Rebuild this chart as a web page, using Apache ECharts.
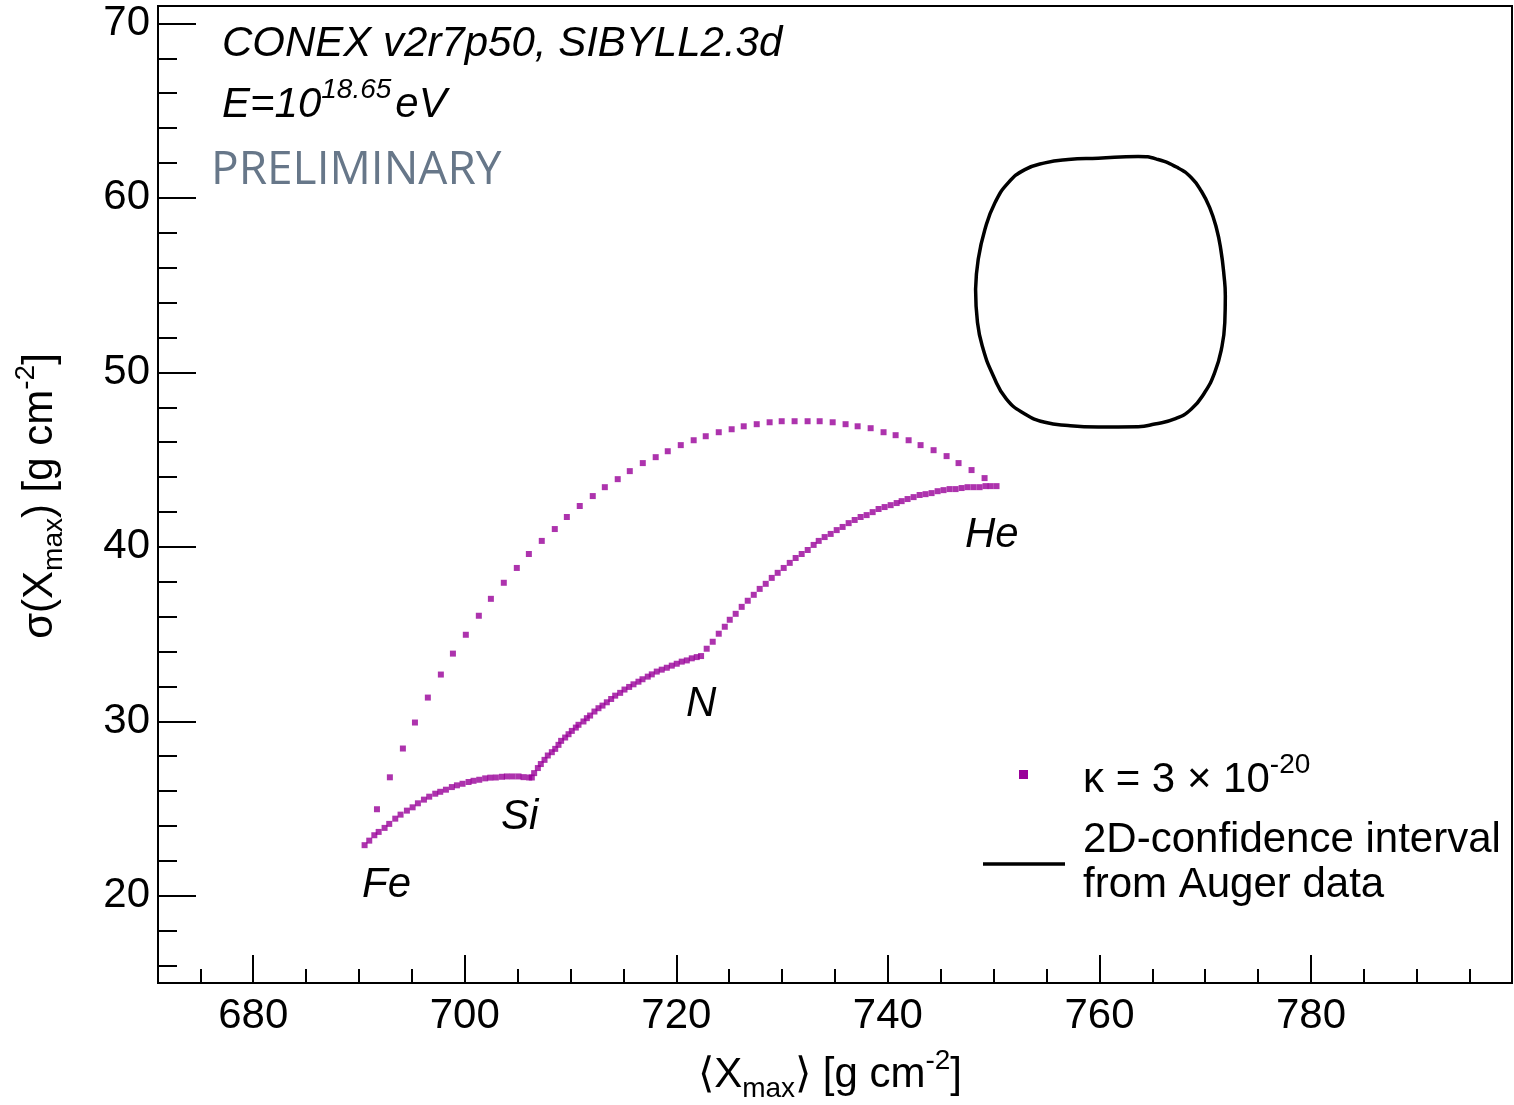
<!DOCTYPE html>
<html>
<head>
<meta charset="utf-8">
<script src="https://cdn.jsdelivr.net/npm/echarts@6/dist/echarts.min.js"></script>
<style>
  html, body { margin: 0; padding: 0; background: #ffffff; }
  #chart { width: 1514px; height: 1105px; }
</style>
</head>
<body>
<div id="chart"></div>
<script>
// <Xmax>, sigma(Xmax) of two-component mixtures (kappa = 3e-20)
// Adjacent-element mixtures: Fe-Si, Si-N, N-He
const mixFeSi = [
  [690.53,22.90],[690.97,23.16],[691.45,23.47],[691.86,23.66],[692.42,23.89],[692.86,24.12],
  [693.43,24.42],[693.93,24.65],[694.53,24.88],[695.07,25.07],[695.57,25.30],[696.14,25.51],
  [696.64,25.68],[697.21,25.85],[697.68,25.96],[698.22,26.08],[698.78,26.23],[699.26,26.33],
  [699.79,26.42],[700.36,26.52],[700.83,26.59],[701.37,26.65],[701.93,26.73],[702.41,26.77],
  [702.94,26.78],[703.51,26.82],[703.98,26.84],[704.52,26.84],[705.08,26.84],[705.56,26.80],
  [706.09,26.78],[706.34,26.78]
];
const mixSiN = [
  [706.56,27.03],[706.91,27.32],[707.19,27.55],[707.54,27.79],[707.85,28.04],[708.23,28.23],
  [708.55,28.42],[708.86,28.65],[709.11,28.88],[709.49,29.07],[709.81,29.26],[710.12,29.45],
  [710.50,29.64],[710.75,29.80],[711.22,29.99],[711.54,30.18],[711.85,30.33],[712.26,30.56],
  [712.64,30.75],[713.02,30.90],[713.43,31.09],[713.84,31.28],[714.22,31.47],[714.69,31.63],
  [715.10,31.82],[715.54,31.97],[715.95,32.12],[716.42,32.27],[716.80,32.41],[717.30,32.56],
  [717.68,32.69],[718.15,32.85],[718.62,32.96],[719.10,33.07],[719.57,33.19],[720.04,33.30],
  [720.51,33.42],[720.99,33.49],[721.46,33.61],[721.93,33.68],[722.34,33.74]
];
const mixNHe = [
  [722.87,34.16],[723.44,34.56],[724.01,35.02],[724.58,35.42],[725.05,35.82],[725.61,36.16],
  [726.18,36.56],[726.75,36.91],[727.32,37.25],[727.88,37.59],[728.45,37.88],[729.02,38.22],
  [729.58,38.51],[730.15,38.79],[730.72,39.08],[731.28,39.36],[731.85,39.59],[732.42,39.82],
  [732.98,40.11],[733.46,40.34],[734.02,40.56],[734.59,40.74],[735.16,40.96],[735.72,41.14],
  [736.29,41.36],[736.86,41.54],[737.42,41.71],[737.99,41.82],[738.56,41.99],[739.12,42.17],
  [739.69,42.28],[740.26,42.39],[740.83,42.51],[741.30,42.62],[741.86,42.74],[742.43,42.85],
  [743.00,42.97],[743.56,43.02],[744.13,43.08],[744.70,43.19],[745.26,43.25],[745.83,43.31],
  [746.40,43.31],[746.97,43.37],[747.53,43.42],[748.10,43.42],[748.67,43.42],[749.23,43.48],
  [749.71,43.48],[750.27,43.48]
];
// Direct Fe-He mixtures
const mixFeHe = [
  [691.70,24.96],[692.92,26.79],[694.15,28.44],[695.29,29.93],[696.51,31.36],[697.74,32.68],
  [698.88,33.88],[700.10,34.96],[701.33,36.05],[702.47,37.02],[703.69,37.94],[704.92,38.79],
  [706.06,39.59],[707.28,40.34],[708.51,41.02],[709.65,41.71],[710.87,42.34],[712.10,42.91],
  [713.24,43.42],[714.46,43.88],[715.60,44.34],[716.83,44.80],[718.05,45.14],[719.19,45.48],
  [720.42,45.83],[721.64,46.11],[722.78,46.34],[724.01,46.57],[725.23,46.74],[726.37,46.91],
  [727.60,47.03],[728.82,47.14],[729.96,47.20],[731.18,47.20],[732.41,47.20],[733.55,47.20],
  [734.78,47.14],[736.00,47.03],[737.14,46.91],[738.37,46.80],[739.59,46.57],[740.73,46.40],
  [741.96,46.11],[743.09,45.83],[744.32,45.54],[745.55,45.20],[746.68,44.80],[747.91,44.40],
  [749.14,43.94]
];
// 2D confidence contour from Auger data (closed loop)
const augerContour = [
  [748.29,54.76],[748.54,56.48],[749.17,58.19],[750.12,59.72],[751.37,60.86],[752.95,61.62],
  [754.84,62.01],[757.04,62.20],[759.88,62.28],[763.66,62.38],[765.55,62.20],[767.43,61.72],
  [768.69,61.15],[769.64,60.38],[770.43,59.43],[771.05,58.29],[771.47,57.05],[771.78,55.52],
  [771.90,54.38],[771.85,52.86],[771.53,51.33],[770.90,50.00],[769.96,48.86],[768.69,47.90],
  [767.12,47.33],[765.23,47.04],[763.66,46.89],[759.88,46.87],[757.04,46.95],[754.84,47.14],
  [752.95,47.62],[751.21,48.47],[749.96,49.81],[749.01,51.33],[748.47,52.86],[748.29,54.76]
];

// Axis ticks
const xMajorTicks = [680, 700, 720, 740, 760, 780];
const xMinorTicks = [675, 685, 690, 695, 705, 710, 715, 725, 730, 735, 745, 750, 755, 765, 770, 775, 785, 790, 795];
const yMajorTicks = [20, 30, 40, 50, 60, 70];
const yMinorTicks = [16, 18, 22, 24, 26, 28, 32, 34, 36, 38, 42, 44, 46, 48, 52, 54, 56, 58, 62, 64, 66, 68];

const X_MIN = 671, X_MAX = 799, Y_MIN = 15, Y_MAX = 71;

const FONT = "'Liberation Sans', Arial, Helvetica, sans-serif";
const PURPLE = '#990099';

const chart = echarts.init(document.getElementById('chart'), null, { renderer: 'canvas' });

function scatterSeries(name, data) {
  return {
    name: name,
    type: 'scatter',
    xAxisIndex: 0,
    yAxisIndex: 0,
    symbol: 'rect',
    symbolSize: 6,
    itemStyle: { color: PURPLE },
    data: data,
    silent: true
  };
}

const baseText = { fontFamily: FONT, fontSize: 42, fill: '#000' };

chart.setOption({
  animation: false,
  backgroundColor: '#ffffff',
  grid: {
    left: 158, right: 2, top: 6, bottom: 122,
    show: true, borderColor: '#000', borderWidth: 2, backgroundColor: 'transparent'
  },
  xAxis: [
    {
      type: 'value', min: X_MIN, max: X_MAX, position: 'bottom',
      axisLine: { show: true, onZero: false, lineStyle: { color: '#000', width: 2 } },
      axisTick: { show: true, inside: true, length: 28, customValues: xMajorTicks, lineStyle: { color: '#000', width: 2 } },
      axisLabel: { show: true, customValues: xMajorTicks, margin: 12, fontFamily: FONT, fontSize: 42, color: '#000' },
      splitLine: { show: false }
    },
    {
      type: 'value', min: X_MIN, max: X_MAX, position: 'bottom',
      axisLine: { show: false },
      axisTick: { show: true, inside: true, length: 14, customValues: xMinorTicks, lineStyle: { color: '#000', width: 2 } },
      axisLabel: { show: false },
      splitLine: { show: false }
    }
  ],
  yAxis: [
    {
      type: 'value', min: Y_MIN, max: Y_MAX, position: 'left',
      axisLine: { show: true, onZero: false, lineStyle: { color: '#000', width: 2 } },
      axisTick: { show: true, inside: true, length: 38, customValues: yMajorTicks, lineStyle: { color: '#000', width: 2 } },
      axisLabel: { show: true, customValues: yMajorTicks, margin: 8, fontFamily: FONT, fontSize: 42, color: '#000' },
      splitLine: { show: false }
    },
    {
      type: 'value', min: Y_MIN, max: Y_MAX, position: 'left',
      axisLine: { show: false },
      axisTick: { show: true, inside: true, length: 19, customValues: yMinorTicks, lineStyle: { color: '#000', width: 2 } },
      axisLabel: { show: false },
      splitLine: { show: false }
    }
  ],
  series: [
    {
      name: '2D-confidence interval from Auger data',
      type: 'line',
      xAxisIndex: 0, yAxisIndex: 0,
      data: augerContour,
      smooth: 0.5,
      showSymbol: false,
      lineStyle: { color: '#000', width: 3.5 },
      silent: true
    },
    scatterSeries('Fe-Si', mixFeSi),
    scatterSeries('Si-N', mixSiN),
    scatterSeries('N-He', mixNHe),
    scatterSeries('Fe-He', mixFeHe)
  ],
  graphic: [
    // header text
    { type: 'text', x: 222, y: 44, style: Object.assign({}, baseText, {
        text: 'CONEX v2r7p50, SIBYLL2.3d', fontStyle: 'italic', verticalAlign: 'middle' }) },
    { type: 'text', x: 222, y: 101, style: {
        text: '{b|E=10}{p|18.65}{b|eV}', verticalAlign: 'middle', fontFamily: FONT,
        rich: {
          b: { fontFamily: FONT, fontSize: 42, fontStyle: 'italic', fill: '#000', lineHeight: 50, verticalAlign: 'bottom' },
          p: { fontFamily: FONT, fontSize: 28, fontStyle: 'italic', fill: '#000', verticalAlign: 'top', padding: [0, 4, 0, 0] }
        } } },
    { type: 'text', x: 211, y: 171, style: {
        text: 'PRELIMINARY', fontFamily: "'Open Sans', 'Noto Sans', sans-serif", fontSize: 46,
        fill: '#677789', verticalAlign: 'middle' } },
    // element labels
    { type: 'text', x: 362, y: 885, style: Object.assign({}, baseText, { text: 'Fe', fontStyle: 'italic', verticalAlign: 'middle' }) },
    { type: 'text', x: 501, y: 817, style: Object.assign({}, baseText, { text: 'Si', fontStyle: 'italic', verticalAlign: 'middle' }) },
    { type: 'text', x: 686, y: 704, style: Object.assign({}, baseText, { text: 'N', fontStyle: 'italic', verticalAlign: 'middle' }) },
    { type: 'text', x: 965, y: 535, style: Object.assign({}, baseText, { text: 'He', fontStyle: 'italic', verticalAlign: 'middle' }) },
    // legend
    { type: 'rect', shape: { x: 1019, y: 770, width: 9, height: 9 }, style: { fill: PURPLE } },
    { type: 'text', x: 1083, y: 776, style: {
        text: '{b|\u03ba = 3 \u00d7 10}{p|-20}', verticalAlign: 'middle', fontFamily: FONT,
        rich: {
          b: { fontFamily: FONT, fontSize: 42, fill: '#000', lineHeight: 50, verticalAlign: 'bottom' },
          p: { fontFamily: FONT, fontSize: 28, fill: '#000', verticalAlign: 'top' }
        } } },
    { type: 'line', shape: { x1: 983, y1: 864, x2: 1065, y2: 864 }, style: { stroke: '#000', lineWidth: 3.5 } },
    { type: 'text', x: 1083, y: 840, style: Object.assign({}, baseText, { text: '2D-confidence interval', verticalAlign: 'middle' }) },
    { type: 'text', x: 1083, y: 885, style: Object.assign({}, baseText, { text: 'from Auger data', verticalAlign: 'middle' }) },
    // axis titles
    { type: 'text', x: 962, y: 1075, style: {
        text: '{b|\u27e8X}{s|max}{b|\u27e9 [g cm}{p|-2}{b|]}', align: 'right', verticalAlign: 'middle', fontFamily: FONT,
        rich: {
          b: { fontFamily: FONT, fontSize: 42, fill: '#000', lineHeight: 56, verticalAlign: 'middle' },
          s: { fontFamily: FONT, fontSize: 28, fill: '#000', verticalAlign: 'bottom' },
          p: { fontFamily: FONT, fontSize: 28, fill: '#000', verticalAlign: 'top' }
        } } },
    { type: 'text', x: 40, y: 496, rotation: Math.PI / 2, style: {
        text: '{b|\u03c3(X}{s|max}{b|) [g cm}{p|-2}{b|]}', align: 'center', verticalAlign: 'middle', fontFamily: FONT,
        rich: {
          b: { fontFamily: FONT, fontSize: 42, fill: '#000', lineHeight: 56, verticalAlign: 'middle' },
          s: { fontFamily: FONT, fontSize: 28, fill: '#000', verticalAlign: 'bottom' },
          p: { fontFamily: FONT, fontSize: 28, fill: '#000', verticalAlign: 'top' }
        } } }
  ]
});
</script>
</body>
</html>
